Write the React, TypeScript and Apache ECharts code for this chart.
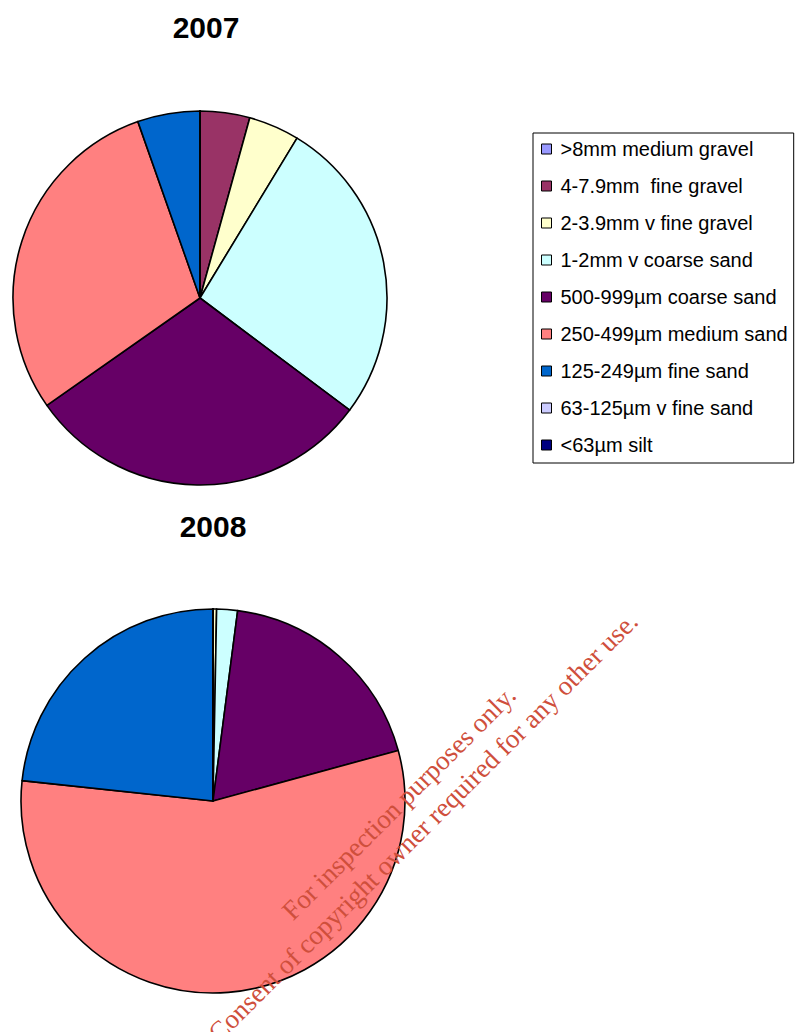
import React, { useEffect, useRef } from "react";
import * as echarts from "echarts";

const categories = [
  ">8mm medium gravel",
  "4-7.9mm  fine gravel",
  "2-3.9mm v fine gravel",
  "1-2mm v coarse sand",
  "500-999µm coarse sand",
  "250-499µm medium sand",
  "125-249µm fine sand",
  "63-125µm v fine sand",
  "<63µm silt",
];

const colors = [
  "#9999FF",
  "#993366",
  "#FFFFCC",
  "#CCFFFF",
  "#660066",
  "#FF8080",
  "#0066CC",
  "#CCCCFF",
  "#000080",
];

const values2007 = [0, 4.3, 4.4, 26.6, 30.1, 29.4, 5.4, 0, 0];
const values2008 = [0, 0, 0.3, 1.75, 18.7, 55.9, 23.3, 0, 0];

const titles = ["2007", "2008"];
const watermark = [
  "For inspection purposes only.",
  "Consent of copyright owner required for any other use.",
];

const SANS = "'Liberation Sans', Arial, sans-serif";
const SERIF = "'Liberation Serif', 'Times New Roman', serif";

function buildData(values: number[]) {
  return categories.map((name, i) => ({
    name,
    value: values[i],
    itemStyle: { color: colors[i] },
  }));
}

export default function App() {
  const ref = useRef<HTMLDivElement>(null);

  useEffect(() => {
    if (!ref.current) return;
    const chart = echarts.init(ref.current, undefined, { renderer: "svg" });
    const pieBase = {
      type: "pie",
      clockwise: true,
      startAngle: 90,
      label: { show: false },
      labelLine: { show: false },
      emphasis: { disabled: true },
      silent: true,
      itemStyle: { borderColor: "#000", borderWidth: 1.6 },
    };
    chart.setOption({
      animation: false,
      backgroundColor: "#fff",
      title: [
        {
          text: titles[0],
          left: 206,
          top: 12,
          textAlign: "center",
          padding: 0,
          textStyle: { fontFamily: SANS, fontWeight: "bold", fontSize: 30, color: "#000" },
        },
        {
          text: titles[1],
          left: 213,
          top: 511,
          textAlign: "center",
          padding: 0,
          textStyle: { fontFamily: SANS, fontWeight: "bold", fontSize: 30, color: "#000" },
        },
      ],
      legend: {
        orient: "vertical",
        left: 533,
        top: 133,
        padding: [6, 6, 8, 8],
        backgroundColor: "#fff",
        borderColor: "#000",
        borderWidth: 1,
        borderRadius: 0,
        itemWidth: 10,
        itemHeight: 10,
        itemGap: 17,
        icon: "rect",
        selectedMode: false,
        itemStyle: { borderColor: "#000", borderWidth: 1 },
        textStyle: {
          fontFamily: SANS,
          fontSize: 20,
          lineHeight: 20,
          color: "#000",
          padding: [0, 0, 0, 4],
        },
        data: categories,
      },
      series: [
        {
          ...pieBase,
          name: titles[0],
          center: [200, 298],
          radius: 187,
          data: buildData(values2007),
        },
        {
          ...pieBase,
          name: titles[1],
          center: [213, 801],
          radius: 192,
          data: buildData(values2008),
        },
      ],
      graphic: [
        {
          type: "text",
          x: 411,
          y: 815,
          rotation: Math.PI / 4,
          z: 100,
          silent: true,
          style: {
            text: watermark.join("\n"),
            font: `27px ${SERIF}`,
            lineHeight: 34,
            fill: "#CF4F3C",
            align: "center",
            verticalAlign: "middle",
          },
        },
      ],
    });
    return () => chart.dispose();
  }, []);

  return (
    <div
      ref={ref}
      style={{ position: "fixed", left: 0, top: 0, width: 797, height: 1032 }}
    />
  );
}
